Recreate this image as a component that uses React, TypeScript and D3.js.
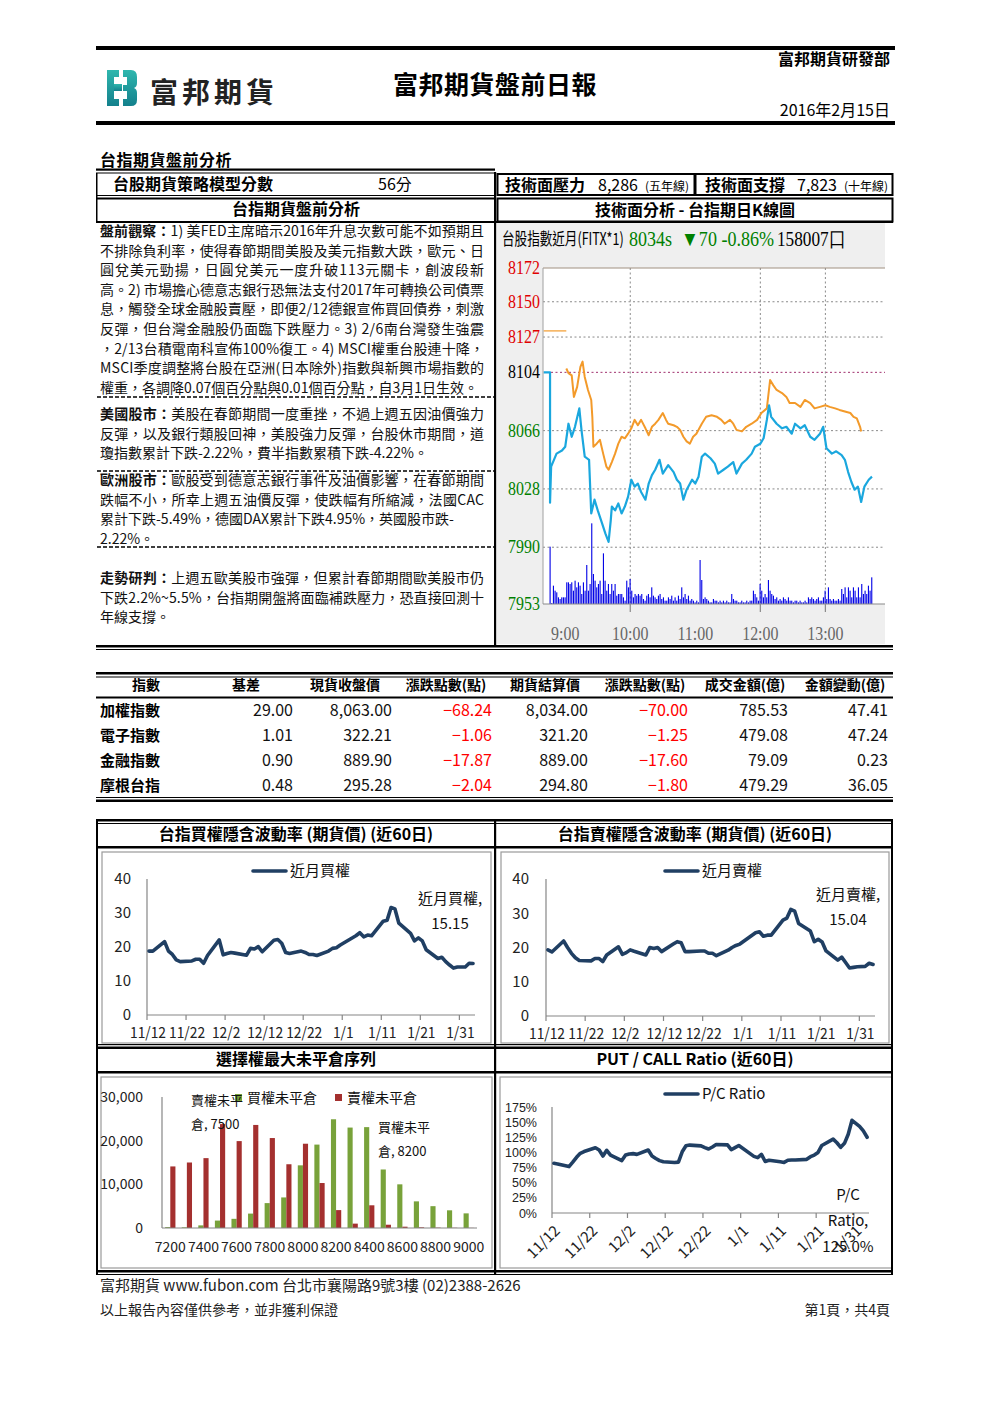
import React from 'react';
import * as d3 from 'd3';

const CJK = "'Noto Sans CJK TC', 'Noto Sans CJK SC', sans-serif";
const SERIF = "'Liberation Serif', 'DejaVu Serif', serif";
const SANS = "'Liberation Sans', 'Noto Sans', sans-serif";

// ---------------- header ----------------
const COMPANY = '富邦期貨';
const DEPT = '富邦期貨研發部';
const REPORT_TITLE = '富邦期貨盤前日報';
const REPORT_DATE = '2016年2月15日';
const SECTION_TITLE = '台指期貨盤前分析';
const MODEL_LABEL = '台股期貨策略模型分數';
const MODEL_SCORE = '56分';
const RESIST_LABEL = '技術面壓力';
const RESIST = '8,286';
const RESIST_NOTE = '(五年線)';
const SUPPORT_LABEL = '技術面支撐';
const SUPPORT = '7,823';
const SUPPORT_NOTE = '(十年線)';
const LEFT_SUB = '台指期貨盤前分析';
const RIGHT_SUB = '技術面分析 - 台指期日K線圖';

// ---------------- commentary ----------------
const PARA_HEADS = ['盤前觀察：', '美國股市：', '歐洲股市：', '走勢研判：'];
const PARA_LINES = [
  [
    '1) 美FED主席暗示2016年升息次數可能不如預期且',
    '不排除負利率，使得春節期間美股及美元指數大跌，歐元、日',
    '圓兌美元勁揚，日圓兌美元一度升破113元關卡，創波段新',
    '高。2) 市場擔心德意志銀行恐無法支付2017年可轉換公司債票',
    '息，觸發全球金融股賣壓，即便2/12德銀宣佈買回債券，刺激',
    '反彈，但台灣金融股仍面臨下跌壓力。3) 2/6南台灣發生強震',
    '，2/13台積電南科宣佈100%復工。4) MSCI權重台股連十降，',
    'MSCI季度調整將台股在亞洲(日本除外)指數與新興市場指數的',
    '權重，各調降0.07個百分點與0.01個百分點，自3月1日生效。',
  ],
  [
    '美股在春節期間一度重挫，不過上週五因油價強力',
    '反彈，以及銀行類股回神，美股強力反彈，台股休市期間，道',
    '瓊指數累計下跌-2.22%，費半指數累積下跌-4.22%。',
  ],
  [
    '歐股受到德意志銀行事件及油價影響，在春節期間',
    '跌幅不小，所幸上週五油價反彈，使跌幅有所縮減，法國CAC',
    '累計下跌-5.49%，德國DAX累計下跌4.95%，英國股市跌-',
    '2.22%。',
  ],
  [
    '上週五歐美股市強彈，但累計春節期間歐美股市仍',
    '下跌2.2%~5.5%，台指期開盤將面臨補跌壓力，恐直接回測十',
    '年線支撐。',
  ],
];

// ---------------- intraday chart ----------------
const QUOTE_NAME = '台股指數近月(FITX*1)';
const QUOTE_LAST = '8034s';
const QUOTE_CHANGE = '▼70 -0.86%';
const QUOTE_VOLUME = '158007口';
const PREV_CLOSE = 8104;
const PRICE_TICKS = [8172, 8150, 8127, 8104, 8066, 8028, 7990, 7953];
const TIME_LABELS = ['9:00', '10:00', '11:00', '12:00', '13:00'];
const TIME_GRID = ['10:00', '12:00', '13:00'];
const OPEN_REF: [string, number][] = [['8:40', 8131], ['9:01', 8131]];
const FUT_PRICE: [string, number][] = [
  ['8:40', 8104], ['8:46', 8104], ['8:46', 8019], ['8:47', 8042.5], ['8:52', 8051], ['8:57', 8053], ['9:00', 8055.5],
  ['9:03', 8070.5], ['9:06', 8062], ['9:09', 8068.5], ['9:13', 8080.5], ['9:15', 8066.5], ['9:18', 8049], ['9:22', 8047],
  ['9:24', 8012], ['9:27', 8021], ['9:30', 8014], ['9:34', 8005.5], ['9:37', 7999], ['9:40', 7993.5], ['9:42', 8007.5],
  ['9:43', 8016.5], ['9:46', 8014], ['9:49', 8018.5], ['9:52', 8012], ['9:55', 8016.5], ['9:58', 8023], ['10:01', 8034],
  ['10:04', 8029.5], ['10:07', 8031.5], ['10:10', 8026], ['10:14', 8021], ['10:17', 8031.5], ['10:20', 8037], ['10:23', 8040.5],
  ['10:27', 8047], ['10:30', 8038], ['10:35', 8043.5], ['10:40', 8039], ['10:43', 8034], ['10:46', 8031.5], ['10:49', 8021],
  ['10:52', 8027.5], ['10:57', 8034], ['11:00', 8031.5], ['11:03', 8036], ['11:06', 8049], ['11:09', 8051], ['11:14', 8048],
  ['11:18', 8044.5], ['11:21', 8038], ['11:26', 8040.5], ['11:30', 8042.5], ['11:35', 8045.5], ['11:38', 8038], ['11:43', 8044.5],
  ['11:47', 8047], ['11:52', 8051], ['11:55', 8055.5], ['12:00', 8057.5], ['12:03', 8061], ['12:06', 8073], ['12:08', 8082.5],
  ['12:10', 8075], ['12:15', 8070.5], ['12:20', 8067.5], ['12:24', 8068.5], ['12:29', 8064], ['12:32', 8070.5], ['12:37', 8067.5],
  ['12:41', 8069.5], ['12:46', 8062], ['12:50', 8060], ['12:55', 8064], ['12:58', 8068.5], ['13:01', 8054.5], ['13:06', 8051],
  ['13:10', 8052.5], ['13:15', 8050], ['13:18', 8047], ['13:21', 8039], ['13:24', 8032.5], ['13:27', 8027.5], ['13:30', 8029.5],
  ['13:33', 8019.5], ['13:36', 8029.5], ['13:40', 8034], ['13:43', 8036],
];
const SPOT_INDEX: [string, number][] = [
  ['9:01', 8106.5], ['9:03', 8103.5], ['9:06', 8102], ['9:08', 8088], ['9:11', 8094.5], ['9:14', 8107.5], ['9:16', 8111],
  ['9:18', 8101], ['9:21', 8092.5], ['9:24', 8086], ['9:25', 8075], ['9:26', 8055.5], ['9:29', 8057.5], ['9:32', 8060],
  ['9:35', 8051], ['9:38', 8042.5], ['9:40', 8040.5], ['9:43', 8045.5], ['9:46', 8051], ['9:49', 8057.5], ['9:52', 8062],
  ['9:55', 8061], ['9:58', 8064], ['10:01', 8067.5], ['10:04', 8073], ['10:07', 8069.5], ['10:10', 8073], ['10:14', 8067.5],
  ['10:17', 8063], ['10:20', 8068.5], ['10:23', 8070.5], ['10:26', 8073], ['10:30', 8077.5], ['10:33', 8073], ['10:35', 8070.5],
  ['10:40', 8069.5], ['10:43', 8068.5], ['10:46', 8066.5], ['10:49', 8062], ['10:52', 8059], ['10:55', 8057.5], ['10:58', 8062],
  ['11:01', 8064], ['11:06', 8070.5], ['11:10', 8075], ['11:15', 8076], ['11:20', 8075], ['11:24', 8073], ['11:27', 8070.5],
  ['11:32', 8073], ['11:35', 8070.5], ['11:38', 8066.5], ['11:43', 8065.5], ['11:47', 8068.5], ['11:52', 8070.5], ['11:57', 8073],
  ['12:01', 8077.5], ['12:06', 8080.5], ['12:09', 8099], ['12:12', 8095.5], ['12:15', 8092.5], ['12:20', 8090.5], ['12:24', 8088],
  ['12:27', 8084], ['12:32', 8084], ['12:37', 8081.5], ['12:41', 8086], ['12:46', 8084], ['12:50', 8080.5], ['12:55', 8081.5],
  ['13:00', 8082.5], ['13:04', 8081.5], ['13:09', 8080.5], ['13:13', 8079.5], ['13:18', 8078.5], ['13:23', 8077.5], ['13:26', 8075],
  ['13:29', 8074], ['13:32', 8068.5], ['13:33', 8065.5],
];
const VOLUME_START = '8:46';
const VOLUME_STEP_MIN = 1.5375;
const VOLUME = [
  1720, 30, 550, 400, 350, 200, 150, 200, 200, 200,
  650, 650, 600, 650, 400, 700, 500, 650, 550, 300,
  650, 400, 1170, 400, 600, 2420, 900, 700, 500, 600,
  700, 300, 1520, 700, 400, 600, 300, 600, 400, 600,
  250, 300, 300, 300, 200, 100, 700, 500, 750, 400,
  200, 300, 250, 300, 250, 300, 150, 100, 250, 300,
  200, 500, 250, 200, 150, 250, 300, 150, 200, 100,
  100, 200, 150, 250, 100, 200, 100, 250, 150, 500,
  200, 300, 150, 250, 100, 150, 100, 50, 100, 50,
  1320, 720, 150, 200, 150, 100, 50, 50, 150, 100,
  100, 50, 100, 50, 100, 50, 100, 50, 50, 300,
  150, 100, 100, 50, 50, 100, 50, 50, 100, 50,
  100, 100, 400, 300, 200, 100, 600, 400, 200, 300,
  200, 720, 400, 300, 250, 150, 200, 100, 150, 100,
  200, 150, 100, 200, 100, 100, 50, 100, 100, 50,
  100, 50, 50, 100, 50, 200, 150, 200, 150, 100,
  150, 200, 100, 100, 200, 400, 150, 500, 150, 100,
  150, 100, 100, 150, 100, 450, 300, 500, 200, 500,
  400, 200, 500, 400, 200, 500, 200, 600, 300, 400,
  300, 550, 400, 800,
];

// ---------------- table ----------------
const TABLE_HEADERS = ['指數', '基差', '現貨收盤價', '漲跌點數(點)', '期貨結算價', '漲跌點數(點)', '成交金額(億)', '金額變動(億)'];
const INDEX_NAMES = ['加權指數', '電子指數', '金融指數', '摩根台指'];
const BASIS = [29.0, 1.01, 0.9, 0.48];
const SPOT_CLOSE = [8063.0, 322.21, 889.9, 295.28];
const SPOT_CHG = [-68.24, -1.06, -17.87, -2.04];
const FUT_SETTLE = [8034.0, 321.2, 889.0, 294.8];
const FUT_CHG = [-70.0, -1.25, -17.6, -1.8];
const TURNOVER = [785.53, 479.08, 79.09, 479.29];
const TURNOVER_CHG = [47.41, 47.24, 0.23, 36.05];

// ---------------- 60-day series ----------------
const TRADE_DATES = [
  '11/12', '11/13', '11/16', '11/17', '11/18', '11/19', '11/20', '11/23', '11/24', '11/25', '11/26', '11/27', '11/30',
  '12/1', '12/2', '12/3', '12/4', '12/7', '12/8', '12/9', '12/10', '12/11', '12/14', '12/15', '12/16', '12/17', '12/18',
  '12/21', '12/22', '12/23', '12/24', '12/25', '12/28', '12/29', '12/30', '12/31',
  '1/4', '1/5', '1/6', '1/7', '1/8', '1/11', '1/12', '1/13', '1/14', '1/15', '1/18', '1/19', '1/20', '1/21', '1/22',
  '1/25', '1/26', '1/27', '1/28', '1/29', '1/30', '2/1', '2/2', '2/3',
];
const CALL_IV = [
  18.8, 18.8, 21.6, 18.8, 17.8, 16.2, 15.7, 15.9, 16.4, 16.4, 15.2, 17.5, 22.1,
  17.7, 18.1, 18.4, 18.2, 17.6, 19.6, 19.4, 20.1, 18.6, 22.0, 22.2, 21.1, 18.4, 18.1,
  18.8, 18.4, 17.8, 17.8, 17.5, 18.8, 19.6, 19.8, 20.6,
  23.3, 24.2, 23.0, 23.5, 23.3, 27.6, 27.9, 31.6, 31.2, 27.0, 24.0, 21.8, 22.7, 21.8, 19.2,
  16.6, 17.0, 15.7, 14.7, 13.8, 14.1, 14.1, 15.2, 15.15,
];
const PUT_IV = [
  19.3, 18.7, 21.9, 20.0, 18.3, 17.0, 16.2, 16.1, 16.8, 16.8, 15.9, 17.8, 20.2,
  18.0, 18.5, 19.3, 18.9, 17.8, 20.0, 19.7, 20.0, 18.8, 21.0, 21.7, 21.4, 18.8, 18.8,
  19.0, 19.0, 18.3, 18.3, 17.6, 19.2, 20.0, 20.6, 21.0,
  24.3, 24.6, 23.3, 23.6, 23.6, 28.0, 28.6, 31.1, 30.6, 27.0, 24.8, 21.7, 22.4, 21.6, 19.0,
  16.3, 17.2, 15.6, 14.0, 14.2, 14.4, 14.5, 15.4, 15.04,
];
const PC_RATIO = [
  82, 81, 76.6, 84, 92, 98.5, 101.5, 107.8, 104, 94, 103.5, 95.5, 86.5,
  95.7, 97.5, 98, 96.8, 104, 94, 90, 86.5, 84.5, 83.5, 84, 101, 111, 112.1,
  110.8, 108, 105.6, 109, 113, 112.5, 104.5, 108, 111.5,
  93.5, 91.4, 96.8, 85, 87, 84.5, 83.5, 87, 87.5, 87.5, 88.6, 93, 95.7, 100, 111.5,
  122, 116, 108.5, 115, 130, 153, 143, 135.5, 125,
];
const IV_TICKS = [0, 10, 20, 30, 40];
const PC_TICKS = [0, 25, 50, 75, 100, 125, 150, 175];

// ---------------- open interest ----------------
const STRIKES = [7200, 7300, 7400, 7500, 7600, 7700, 7800, 7900, 8000, 8100, 8200, 8300, 8400, 8500, 8600, 8700, 8800, 8900, 9000];
const CALL_OI = [200, 150, 600, 1700, 2100, 3300, 5700, 7000, 14350, 19100, 24900, 23000, 23100, 13400, 10000, 6100, 5000, 4050, 3350];
const PUT_OI = [14100, 15000, 16000, 23800, 19900, 23600, 20600, 14600, 19300, 10300, 4100, 1000, 5200, 750, 300, 150, 80, 50, 30];
const OI_TICKS = [0, 10000, 20000, 30000];

// ---------------- titles / footer ----------------
const CALL_TITLE = '台指買權隱含波動率 (期貨價) (近60日)';
const PUT_TITLE = '台指賣權隱含波動率 (期貨價) (近60日)';
const OI_TITLE = '選擇權最大未平倉序列';
const PC_TITLE = 'PUT / CALL Ratio (近60日)';
const FOOTER_1 = '富邦期貨 www.fubon.com 台北市襄陽路9號3樓 (02)2388-2626';
const FOOTER_2 = '以上報告內容僅供參考，並非獲利保證';
const FOOTER_PAGE = '第1頁，共4頁';

const toMin = (s: string) => { const [h, m] = s.split(':').map(Number); return h * 60 + m; };
const parseMD = (s: string) => { const [m, d] = s.split('/').map(Number); return new Date(m >= 11 ? 2015 : 2016, m - 1, d); };
const fmt2 = d3.format(',.2f');

function Condensed(props: { x: number; y: number; sx: number; size: number; family: string; fill?: string; anchor?: string; children: React.ReactNode }) {
  return (
    <g transform={`translate(${props.x},${props.y}) scale(${props.sx},1)`}>
      <text x={0} y={0} fontFamily={props.family} fontSize={props.size} fill={props.fill || '#000'} textAnchor={props.anchor || 'start'}>
        {props.children}
      </text>
    </g>
  );
}

function Intraday() {
  const x = d3.scaleLinear().domain([toMin('8:40') - 0.5, toMin('13:55')]).range([543, 885]);
  const y = d3.scaleLinear().domain([7953, 8172]).range([604, 268]);
  const yv = d3.scaleLinear().domain([0, 3000]).range([604, 504]);
  const line = d3.line<[string, number]>().x(d => x(toMin(d[0]))).y(d => y(d[1]));
  const vStart = toMin(VOLUME_START);
  const lblColor = (v: number) => (v > PREV_CLOSE ? '#e00000' : v === PREV_CLOSE ? '#000' : '#008000');
  return (
    <g>
      <rect x={497} y={223} width={388} height={421} fill="#efefef" />
      <rect x={543} y={268} width={342} height={336} fill="#fff" />
      {PRICE_TICKS.filter(v => v !== 8172 && v !== 7953).map(v => (
        <line key={v} x1={v === PREV_CLOSE ? 551 : 543} x2={885} y1={y(v)} y2={y(v)}
          stroke={v === PREV_CLOSE ? '#a0306e' : '#8a8a8a'} strokeDasharray="2,2.5" strokeWidth={1} />
      ))}
      {TIME_GRID.map(t => (
        <line key={t} x1={x(toMin(t))} x2={x(toMin(t))} y1={268} y2={604} stroke="#8a8a8a" strokeDasharray="2,2.5" />
      ))}
      {VOLUME.map((v, i) => {
        const xx = x(vStart + i * VOLUME_STEP_MIN);
        return <rect key={i} x={xx - 0.5} y={yv(v)} width={1.1} height={604 - yv(v)} fill="#0000e6" />;
      })}
      <path d={line(OPEN_REF) || ''} fill="none" stroke="#f39a2a" strokeWidth={1.2} />
      <path d={line(SPOT_INDEX) || ''} fill="none" stroke="#f39a2a" strokeWidth={2} strokeLinejoin="round" />
      <path d={line(FUT_PRICE) || ''} fill="none" stroke="#1aa7de" strokeWidth={2.2} strokeLinejoin="round" />
      <line x1={543} x2={885} y1={268} y2={268} stroke="#a09080" />
      <line x1={543} x2={543} y1={268} y2={604} stroke="#a0a0a0" />
      <line x1={543} x2={885} y1={604} y2={604} stroke="#8a8a8a" strokeWidth={1.2} />
      {TIME_GRID.map(t => (
        <line key={'tk' + t} x1={x(toMin(t))} x2={x(toMin(t))} y1={604} y2={612} stroke="#8a8a8a" strokeWidth={1.2} />
      ))}
      {PRICE_TICKS.map(v => (
        <Condensed key={'yl' + v} x={540} y={y(v) + 6} sx={0.84} size={19} family={SERIF} fill={lblColor(v)} anchor="end">{v}</Condensed>
      ))}
      {TIME_LABELS.map(t => (
        <Condensed key={'xl' + t} x={x(toMin(t))} y={640} sx={0.84} size={19} family={SERIF} fill="#666" anchor="middle">{t}</Condensed>
      ))}
      <Condensed x={502} y={245} sx={0.74} size={17} family={CJK}>{QUOTE_NAME}</Condensed>
      <Condensed x={629} y={246} sx={0.86} size={21} family={SERIF} fill="#008000">{QUOTE_LAST}</Condensed>
      <Condensed x={681} y={246} sx={0.86} size={21} family={SERIF} fill="#008000">{QUOTE_CHANGE}</Condensed>
      <Condensed x={777} y={246} sx={0.82} size={21} family={SERIF}>{QUOTE_VOLUME}</Condensed>
    </g>
  );
}

type SeriesProps = {
  frame: [number, number, number, number];
  ax0: number; ax1: number; yBase: number; yTop: number; yMax: number;
  ticks: number[]; tickFmt: (v: number) => string; tickRight: number; tickSize: number; tickFamily?: string;
  values: number[]; legend: string; legendX: number; legendY: number;
  labelLines: string[]; labelX: number; labelY: number; labelGap: number; rotated?: boolean;
};

function SeriesChart(p: SeriesProps) {
  const dates = TRADE_DATES.map(parseMD);
  const end = d3.timeDay.offset(dates[dates.length - 1], 1);
  const xs = d3.scaleTime().domain([dates[0], end]).range([p.ax0, p.ax1]);
  const ys = d3.scaleLinear().domain([0, p.yMax]).range([p.yBase, p.yTop]);
  const line = d3.line<number>().x((_, i) => xs(d3.timeHour.offset(dates[i], 12))).y(v => ys(v));
  const xt = d3.range(0, 81, 10).map(k => d3.timeDay.offset(dates[0], k));
  const tf = d3.timeFormat('%-m/%-d');
  const [fx, fy, fw, fh] = p.frame;
  return (
    <g>
      <rect x={fx} y={fy} width={fw} height={fh} fill="#fff" stroke="#9a9a9a" strokeWidth={1.2} />
      <line x1={p.ax0} x2={p.ax0} y1={p.yTop} y2={p.yBase} stroke="#868686" strokeWidth={1.2} />
      <line x1={p.ax0} x2={p.ax1} y1={p.yBase} y2={p.yBase} stroke="#868686" strokeWidth={1.2} />
      {xt.map((d, i) => (
        <line key={'t' + i} x1={xs(d)} x2={xs(d)} y1={p.yBase} y2={p.yBase + 5} stroke="#868686" strokeWidth={1.2} />
      ))}
      {p.ticks.map(v => (
        <text key={'y' + v} x={p.tickRight} y={ys(v) + p.tickSize * 0.36} textAnchor="end" fontSize={p.tickSize}
          fontFamily={p.tickFamily} fill="#222">{p.tickFmt(v)}</text>
      ))}
      {xt.map((d, i) =>
        p.rotated ? (
          <text key={'x' + i} transform={`translate(${xs(d) + 4},${p.yBase + 14}) rotate(-45)`} textAnchor="end"
            dy="0.45em" fontSize={15} fill="#222">{tf(d)}</text>
        ) : (
          <Condensed key={'x' + i} x={xs(d) + 1} y={p.yBase + 23} sx={0.92} size={15} family={CJK} fill="#222" anchor="middle">{tf(d)}</Condensed>
        ),
      )}
      <path d={line(p.values) || ''} fill="none" stroke="#203f63" strokeWidth={3.6} strokeLinejoin="round" strokeLinecap="round" />
      <line x1={p.legendX} x2={p.legendX + 33} y1={p.legendY} y2={p.legendY} stroke="#203f63" strokeWidth={3.6} strokeLinecap="round" />
      <text x={p.legendX + 37} y={p.legendY + 5} fontSize={15} fill="#111">{p.legend}</text>
      {p.labelLines.map((s, i) => (
        <text key={'l' + i} x={p.labelX} y={p.labelY + i * p.labelGap} textAnchor="middle" fontSize={15} fill="#111">{s}</text>
      ))}
    </g>
  );
}

function OiChart() {
  const xb = d3.scaleBand<string>().domain(STRIKES.map(String)).range([162, 477]);
  const bw = xb.bandwidth();
  const y = d3.scaleLinear().domain([0, 30000]).range([1228, 1097]);
  const f = d3.format(',');
  const GREEN = '#78a23a';
  const RED = '#a4302f';
  return (
    <g>
      <rect x={101} y={1077} width={391} height={191} fill="#fff" stroke="#9a9a9a" strokeWidth={1.2} />
      {STRIKES.map((s, i) => {
        const c = (xb(String(s)) || 0) + bw / 2;
        return (
          <g key={s}>
            <rect x={c - bw * 0.31} y={y(CALL_OI[i])} width={bw * 0.31} height={1228 - y(CALL_OI[i])} fill={GREEN} />
            <rect x={c} y={y(PUT_OI[i])} width={bw * 0.31} height={1228 - y(PUT_OI[i])} fill={RED} />
          </g>
        );
      })}
      <line x1={162} x2={162} y1={1097} y2={1228} stroke="#868686" strokeWidth={1.2} />
      <line x1={162} x2={477} y1={1228} y2={1228} stroke="#868686" strokeWidth={1.2} />
      {OI_TICKS.map(v => (
        <text key={v} x={143} y={y(v) + 5} textAnchor="end" fontSize={14} fill="#222">{f(v)}</text>
      ))}
      {STRIKES.filter((_, i) => i % 2 === 0).map(s => (
        <text key={'x' + s} x={(xb(String(s)) || 0) + bw / 2} y={1252} textAnchor="middle" fontSize={14} fill="#222">{s}</text>
      ))}
      <rect x={235} y={1094} width={7} height={7} fill={GREEN} />
      <text x={247} y={1103} fontSize={14} fill="#111">買權未平倉</text>
      <rect x={335} y={1094} width={7} height={7} fill={RED} />
      <text x={347} y={1103} fontSize={14} fill="#111">賣權未平倉</text>
      <text x={191} y={1105} fontSize={13} fill="#111">賣權未平</text>
      <text x={191} y={1129} fontSize={13} fill="#111">{'倉, ' + STRIKES[PUT_OI.indexOf(d3.max(PUT_OI) as number)]}</text>
      <text x={378} y={1132} fontSize={13} fill="#111">買權未平</text>
      <text x={378} y={1156} fontSize={13} fill="#111">{'倉, ' + STRIKES[CALL_OI.indexOf(d3.max(CALL_OI) as number)]}</text>
    </g>
  );
}

function Logo() {
  return (
    <g>
      <defs>
        <linearGradient id="lg" x1="0" y1="0" x2="0" y2="1">
          <stop offset="0" stopColor="#2fb7ae" />
          <stop offset="1" stopColor="#13808c" />
        </linearGradient>
      </defs>
      <path d="M107,70 h12 v7 h-5 v22 h5 v7 h-12 z" fill="url(#lg)" />
      <path d="M114,84 h8 v7 h-8 z" fill="url(#lg)" />
      <path d="M123,70 h8 q6,0 6,7 v6 q0,4 -3,5 q3,1 3,5 v7 q0,6 -6,6 h-8 v-7 h4 v-8 h-4 v-6 h4 v-8 h-4 z" fill="url(#lg)" />
      <text x={150} y={103} fontSize={28} fontWeight="bold" letterSpacing={4} fill="#222">{COMPANY}</text>
    </g>
  );
}

export default function App() {
  const paraStarts = [236, 419, 485, 583];
  const lineGap = 19.6;
  const justified = (p: number, i: number) => i < PARA_LINES[p].length - 1 && !(p === 2 && i === 2);
  const colCenters = [146, 246, 345, 446, 545, 645, 745, 845];
  const colRights = [0, 293, 392, 492, 588, 688, 788, 888];
  const rowsY = [716, 741, 766, 791];
  const cols = [BASIS, SPOT_CLOSE, SPOT_CHG, FUT_SETTLE, FUT_CHG, TURNOVER, TURNOVER_CHG];
  const redCols = [2, 4];

  return (
    <svg width={992} height={1403} viewBox="0 0 992 1403" fontFamily={CJK}
      style={{ position: 'absolute', left: 0, top: 0, background: '#fff' }}>
      <rect width={992} height={1403} fill="#fff" />

      {/* header */}
      <rect x={96} y={46} width={799} height={4} fill="#000" />
      <text x={890} y={65} textAnchor="end" fontSize={16} fontWeight="bold">{DEPT}</text>
      <Logo />
      <text x={495} y={94} textAnchor="middle" fontSize={25} fontWeight="bold" letterSpacing={0.5}>{REPORT_TITLE}</text>
      <text x={890} y={116} textAnchor="end" fontSize={16}>{REPORT_DATE}</text>
      <rect x={96} y={121} width={799} height={4} fill="#000" />

      {/* section top */}
      <text x={100} y={166} fontSize={16} fontWeight="bold" letterSpacing={0.5}>{SECTION_TITLE}</text>
      <rect x={96} y={168.5} width={399} height={2.2} fill="#000" />
      <rect x={96} y={172.5} width={399} height={1} fill="#000" />
      <rect x={96} y={173} width={1.5} height={48} fill="#000" />
      <text x={113} y={190} fontSize={16} fontWeight="bold">{MODEL_LABEL}</text>
      <text x={378} y={190} fontSize={16}>{MODEL_SCORE}</text>
      <rect x={96} y={195} width={399} height={1} fill="#000" />
      <rect x={96} y={197.5} width={399} height={2} fill="#000" />
      <text x={296} y={215} textAnchor="middle" fontSize={16} fontWeight="bold">{LEFT_SUB}</text>
      <rect x={96} y={221} width={797} height={2} fill="#000" />

      <rect x={497.5} y={174} width={197} height={21} fill="none" stroke="#000" strokeWidth={2} />
      <rect x={695.5} y={174} width={197} height={21} fill="none" stroke="#000" strokeWidth={2} />
      <text x={505} y={191} fontSize={16} fontWeight="bold">{RESIST_LABEL}</text>
      <text x={598} y={191} fontSize={16}>{RESIST}</text>
      <text x={645} y={191} fontSize={12}>{RESIST_NOTE}</text>
      <text x={705} y={191} fontSize={16} fontWeight="bold">{SUPPORT_LABEL}</text>
      <text x={797} y={191} fontSize={16}>{SUPPORT}</text>
      <text x={844} y={191} fontSize={12}>{SUPPORT_NOTE}</text>
      <rect x={497.5} y={198.5} width={395} height={23} fill="none" stroke="#000" strokeWidth={2} />
      <text x={695} y={216} textAnchor="middle" fontSize={16} fontWeight="bold">{RIGHT_SUB}</text>

      {/* commentary */}
      {PARA_LINES.map((lines, p) =>
        lines.map((s, i) => (
          <text key={p + '-' + i} x={100} y={paraStarts[p] + i * lineGap} fontSize={14} fill="#111"
            {...(justified(p, i) ? { textLength: 384, lengthAdjust: 'spacing' } : {})}>
            {i === 0 ? <tspan fontWeight="bold">{PARA_HEADS[p]}</tspan> : null}
            {s}
          </text>
        )),
      )}
      {[397, 471, 547].map(yy => (
        <line key={yy} x1={97} x2={494} y1={yy} y2={yy} stroke="#000" strokeWidth={1.6} strokeDasharray="4,2" />
      ))}

      <Intraday />

      <rect x={494} y={172} width={2.2} height={475} fill="#000" />
      <rect x={96} y={645} width={797} height={2.5} fill="#000" />
      <rect x={96} y={649} width={797} height={1} fill="#000" />

      {/* table */}
      <rect x={96} y={672} width={797} height={2.5} fill="#000" />
      <rect x={96} y={676.5} width={797} height={1} fill="#000" />
      {TABLE_HEADERS.map((h, i) => (
        <text key={h + i} x={colCenters[i]} y={690} textAnchor="middle" fontSize={14} fontWeight="bold">{h}</text>
      ))}
      <rect x={96} y={696.5} width={797} height={2} fill="#000" />
      {INDEX_NAMES.map((n, r) => (
        <g key={n}>
          <text x={100} y={rowsY[r]} fontSize={15} fontWeight="bold">{n}</text>
          {cols.map((c, k) => (
            <text key={k} x={colRights[k + 1]} y={rowsY[r]} textAnchor="end" fontSize={16}
              fill={redCols.includes(k) ? '#ff0000' : '#111'}>{fmt2(c[r])}</text>
          ))}
        </g>
      ))}
      <rect x={96} y={797} width={797} height={1} fill="#000" />
      <rect x={96} y={799.5} width={797} height={2.5} fill="#000" />

      {/* lower charts frame */}
      <rect x={96} y={819} width={797} height={2.5} fill="#000" />
      <rect x={96} y={823} width={797} height={1} fill="#000" />
      <text x={296} y={840} textAnchor="middle" fontSize={16} fontWeight="bold">{CALL_TITLE}</text>
      <text x={695} y={840} textAnchor="middle" fontSize={16} fontWeight="bold">{PUT_TITLE}</text>
      <rect x={96} y={846} width={797} height={2.5} fill="#000" />

      <SeriesChart frame={[102, 852, 389, 191]} ax0={147} ax1={475} yBase={1015} yTop={879} yMax={40}
        ticks={IV_TICKS} tickFmt={v => String(v)} tickRight={131} tickSize={15}
        values={CALL_IV} legend="近月買權" legendX={253} legendY={871}
        labelLines={['近月買權,', d3.format('.2f')(CALL_IV[CALL_IV.length - 1])]} labelX={450} labelY={904} labelGap={25} />
      <SeriesChart frame={[501, 852, 388, 191]} ax0={546} ax1={875} yBase={1016} yTop={879} yMax={40}
        ticks={IV_TICKS} tickFmt={v => String(v)} tickRight={529} tickSize={15}
        values={PUT_IV} legend="近月賣權" legendX={665} legendY={871}
        labelLines={['近月賣權,', d3.format('.2f')(PUT_IV[PUT_IV.length - 1])]} labelX={848} labelY={900} labelGap={25} />

      <rect x={96} y={1044} width={797} height={1.2} fill="#000" />
      <rect x={96} y={1046.5} width={797} height={2.5} fill="#000" />
      <text x={296} y={1065} textAnchor="middle" fontSize={16} fontWeight="bold">{OI_TITLE}</text>
      <text x={695} y={1065} textAnchor="middle" fontSize={16} fontWeight="bold">{PC_TITLE}</text>
      <rect x={96} y={1071} width={797} height={2.5} fill="#000" />

      <OiChart />
      <SeriesChart frame={[500, 1077, 392, 191]} ax0={552} ax1={869} yBase={1213} yTop={1107} yMax={175}
        ticks={PC_TICKS} tickFmt={v => v + '%'} tickRight={537} tickSize={12.5} tickFamily={SANS}
        values={PC_RATIO} legend="P/C Ratio" legendX={665} legendY={1094}
        labelLines={['P/C', 'Ratio,', d3.format('.1f')(PC_RATIO[PC_RATIO.length - 1]) + '%']} labelX={848} labelY={1200} labelGap={26} rotated />

      <rect x={96} y={1270} width={797} height={2.5} fill="#000" />
      <rect x={96} y={1274} width={797} height={1} fill="#000" />
      <rect x={96} y={819} width={2} height={456} fill="#000" />
      <rect x={891} y={819} width={2} height={456} fill="#000" />
      <rect x={494} y={819} width={2.2} height={456} fill="#000" />

      {/* footer */}
      <text x={100} y={1291} fontSize={15} fill="#222">{FOOTER_1}</text>
      <text x={100} y={1315} fontSize={14} fill="#222">{FOOTER_2}</text>
      <text x={890} y={1315} textAnchor="end" fontSize={14} fill="#222">{FOOTER_PAGE}</text>
    </svg>
  );
}
